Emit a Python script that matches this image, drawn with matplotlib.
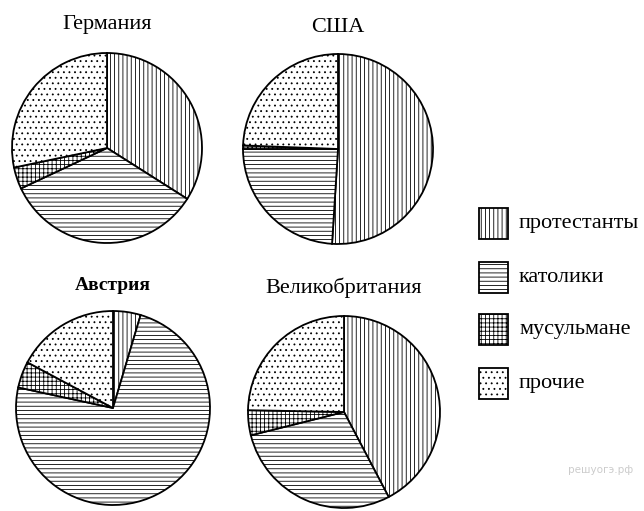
import matplotlib
matplotlib.use("Agg")
import matplotlib.pyplot as plt
from matplotlib.patches import Rectangle

plt.rcParams['font.family'] = ['Liberation Serif', 'DejaVu Serif']
plt.rcParams['hatch.linewidth'] = 0.6

categories = ['протестанты', 'католики', 'мусульмане', 'прочие']
hatches = ['||||', '----', '++++', '...']
hatch_colors = ['black', 'black', 'black', '#555555']

countries = ['Германия', 'США', 'Австрия', 'Великобритания']
germany = [34, 34, 3.7, 28.3]
usa = [51, 24, 0.6, 24.4]
austria = [4.6, 73.8, 4.4, 17.2]
britain = [42.3, 28.8, 4.2, 24.7]

W, H = 644, 511
fig = plt.figure(figsize=(W / 100, H / 100), dpi=100)
fig.patch.set_facecolor('white')


def style(patch, h, hc):
    patch.set_hatch(h)
    if hasattr(patch, 'set_hatchcolor'):
        patch.set_hatchcolor(hc)


# pixel layout: centre x, centre y, radius, title y
layout = [(107, 148, 95, 25), (338, 149, 95, 27), (113, 408, 97, 285), (344, 412, 96, 288)]
data = [germany, usa, austria, britain]

for name, vals, (cx, cy, r, ty) in zip(countries, data, layout):
    rr = r * 1.03
    ax = fig.add_axes([(cx - rr) / W, (H - cy - rr) / H, 2 * rr / W, 2 * rr / H])
    wedges, _ = ax.pie(vals, startangle=90, counterclock=False,
                       colors=['white'] * 4,
                       wedgeprops=dict(edgecolor='black', linewidth=1.3))
    for w, h, hc in zip(wedges, hatches, hatch_colors):
        style(w, h, hc)
    ax.set_xlim(-1.03, 1.03)
    ax.set_ylim(-1.03, 1.03)
    ax.set_axis_off()
    fig.text(cx / W, 1 - ty / H, name, ha='center', va='center',
             fontsize=14 if name == 'Австрия' else 16,
             weight='bold' if name == 'Австрия' else 'normal')

# legend drawn by hand on the right side
box_y = [208, 262, 314, 368]
for lab, h, hc, y in zip(categories, hatches, hatch_colors, box_y):
    box = Rectangle((479 / W, 1 - (y + 31) / H), 29 / W, 31 / H,
                    transform=fig.transFigure, facecolor='white',
                    edgecolor='black', linewidth=1.3)
    style(box, h, hc)
    fig.add_artist(box)
    fig.text(519 / W, 1 - (y + 15) / H, lab, ha='left', va='center', fontsize=16)

fig.text(601 / W, 1 - 470 / H, 'решуогэ.рф', ha='center', va='center',
         fontsize=7.5, color='#cccccc', family='DejaVu Sans')

fig.savefig('out.png', dpi=100)
